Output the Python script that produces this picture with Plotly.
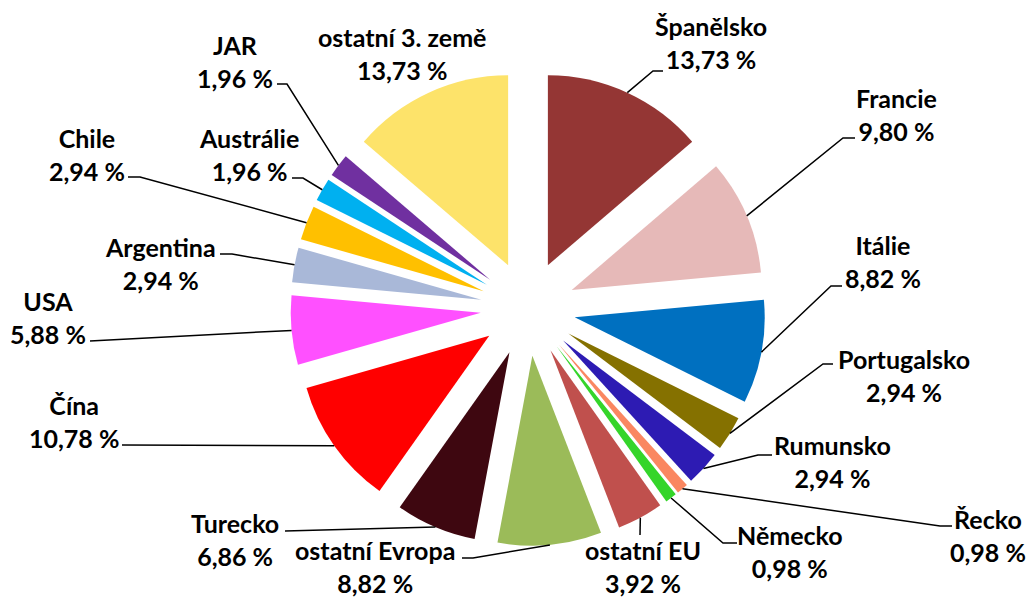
import math
import plotly.graph_objects as go

# ---- data ----
countries = ["Španělsko", "Francie", "Itálie", "Portugalsko", "Rumunsko", "Řecko",
             "Německo", "ostatní EU", "ostatní Evropa", "Turecko", "Čína", "USA",
             "Argentina", "Chile", "Austrálie", "JAR", "ostatní 3. země"]
shares = [13.73, 9.80, 8.82, 2.94, 2.94, 0.98, 0.98, 3.92, 8.82, 6.86, 10.78, 5.88,
          2.94, 2.94, 1.96, 1.96, 13.73]
colors = ["#943634", "#E6B9B8", "#0070C0", "#857100", "#2D1BB3", "#FA8761",
          "#35D52A", "#C0504D", "#9BBB59", "#3E0710", "#FF0000", "#FF50FF",
          "#A9B8D8", "#FFC000", "#00B0F0", "#7030A0", "#FDE36A"]

# ---- layout (pixels) ----
W, H = 1036, 598
CX, CY, HALF = 528, 308.4, 237.5
PULL = 0.25
# label block centres
label_pos = [(711, 42.5), (896, 115), (883, 262), (904, 375), (832, 461), (988, 535),
             (790, 551), (643, 566), (375, 566), (235, 539), (74, 421), (48, 317),
             (160, 264), (87, 154), (249, 154), (235, 61), (402, 53)]
# leader start and elbow points (None = no leader)
leader_pts = [((663, 71), (653, 71)), ((855, 138), (843, 138)), ((842, 286), (831, 286)),
              ((833, 364), (823, 364)), ((772, 455), (758, 455)), ((952, 526), (940, 526)),
              ((737, 543), (723, 543)), ((640, 535), (640, 535)), ((462, 558), (473, 558)),
              ((285, 531), (285, 531)), ((122, 445), (122, 445)), ((90, 341), (90, 341)),
              ((220, 254), (232, 254)), ((128, 177), (140, 177)), ((292, 178), (303, 178)),
              ((277, 84), (287, 84)), None]

def px(x):
    return x / W

def py(y):
    return 1 - y / H

fig = go.Figure(go.Pie(
    labels=countries, values=shares, sort=False, direction="clockwise", rotation=0,
    pull=[PULL] * len(shares), marker=dict(colors=colors, line=dict(width=0)),
    textinfo="none", hoverinfo="label+percent", showlegend=False,
    domain=dict(x=[px(CX - HALF), px(CX + HALF)], y=[py(CY + HALF), py(CY - HALF)]),
))

r = HALF / (1 + PULL)
total = sum(shares)
cum = 0.0
annotations, shapes = [], []
for name, v, pos, lp in zip(countries, shares, label_pos, leader_pts):
    theta = 2 * math.pi * (cum + v / 2) / total
    cum += v
    tip = (CX + r * (1 + PULL) * math.sin(theta), CY - r * (1 + PULL) * math.cos(theta))
    pct = f"{v:.2f}".replace(".", ",") + " %"
    txt = f"<b>{name}<br>{pct}</b>"
    annotations.append(dict(x=px(pos[0]), y=py(pos[1]), xref="paper", yref="paper",
                            text=txt, showarrow=False, xanchor="center", yanchor="middle",
                            align="center",
                            font=dict(family="Lato", size=25, color="#000000")))
    if lp is not None:
        (sx, sy), (ex, ey) = lp
        path = f"M {px(sx)},{py(sy)} L {px(ex)},{py(ey)} L {px(tip[0])},{py(tip[1])}"
        shapes.append(dict(type="path", path=path, xref="paper", yref="paper",
                           line=dict(color="#000000", width=1.5)))

fig.update_layout(width=W, height=H, margin=dict(l=0, r=0, t=0, b=0),
                  paper_bgcolor="white", plot_bgcolor="white",
                  annotations=annotations, shapes=shapes)
fig.write_html("out.html", config={"displayModeBar": False},
               post_script="document.body.style.margin='0';document.body.style.overflow='hidden';")
